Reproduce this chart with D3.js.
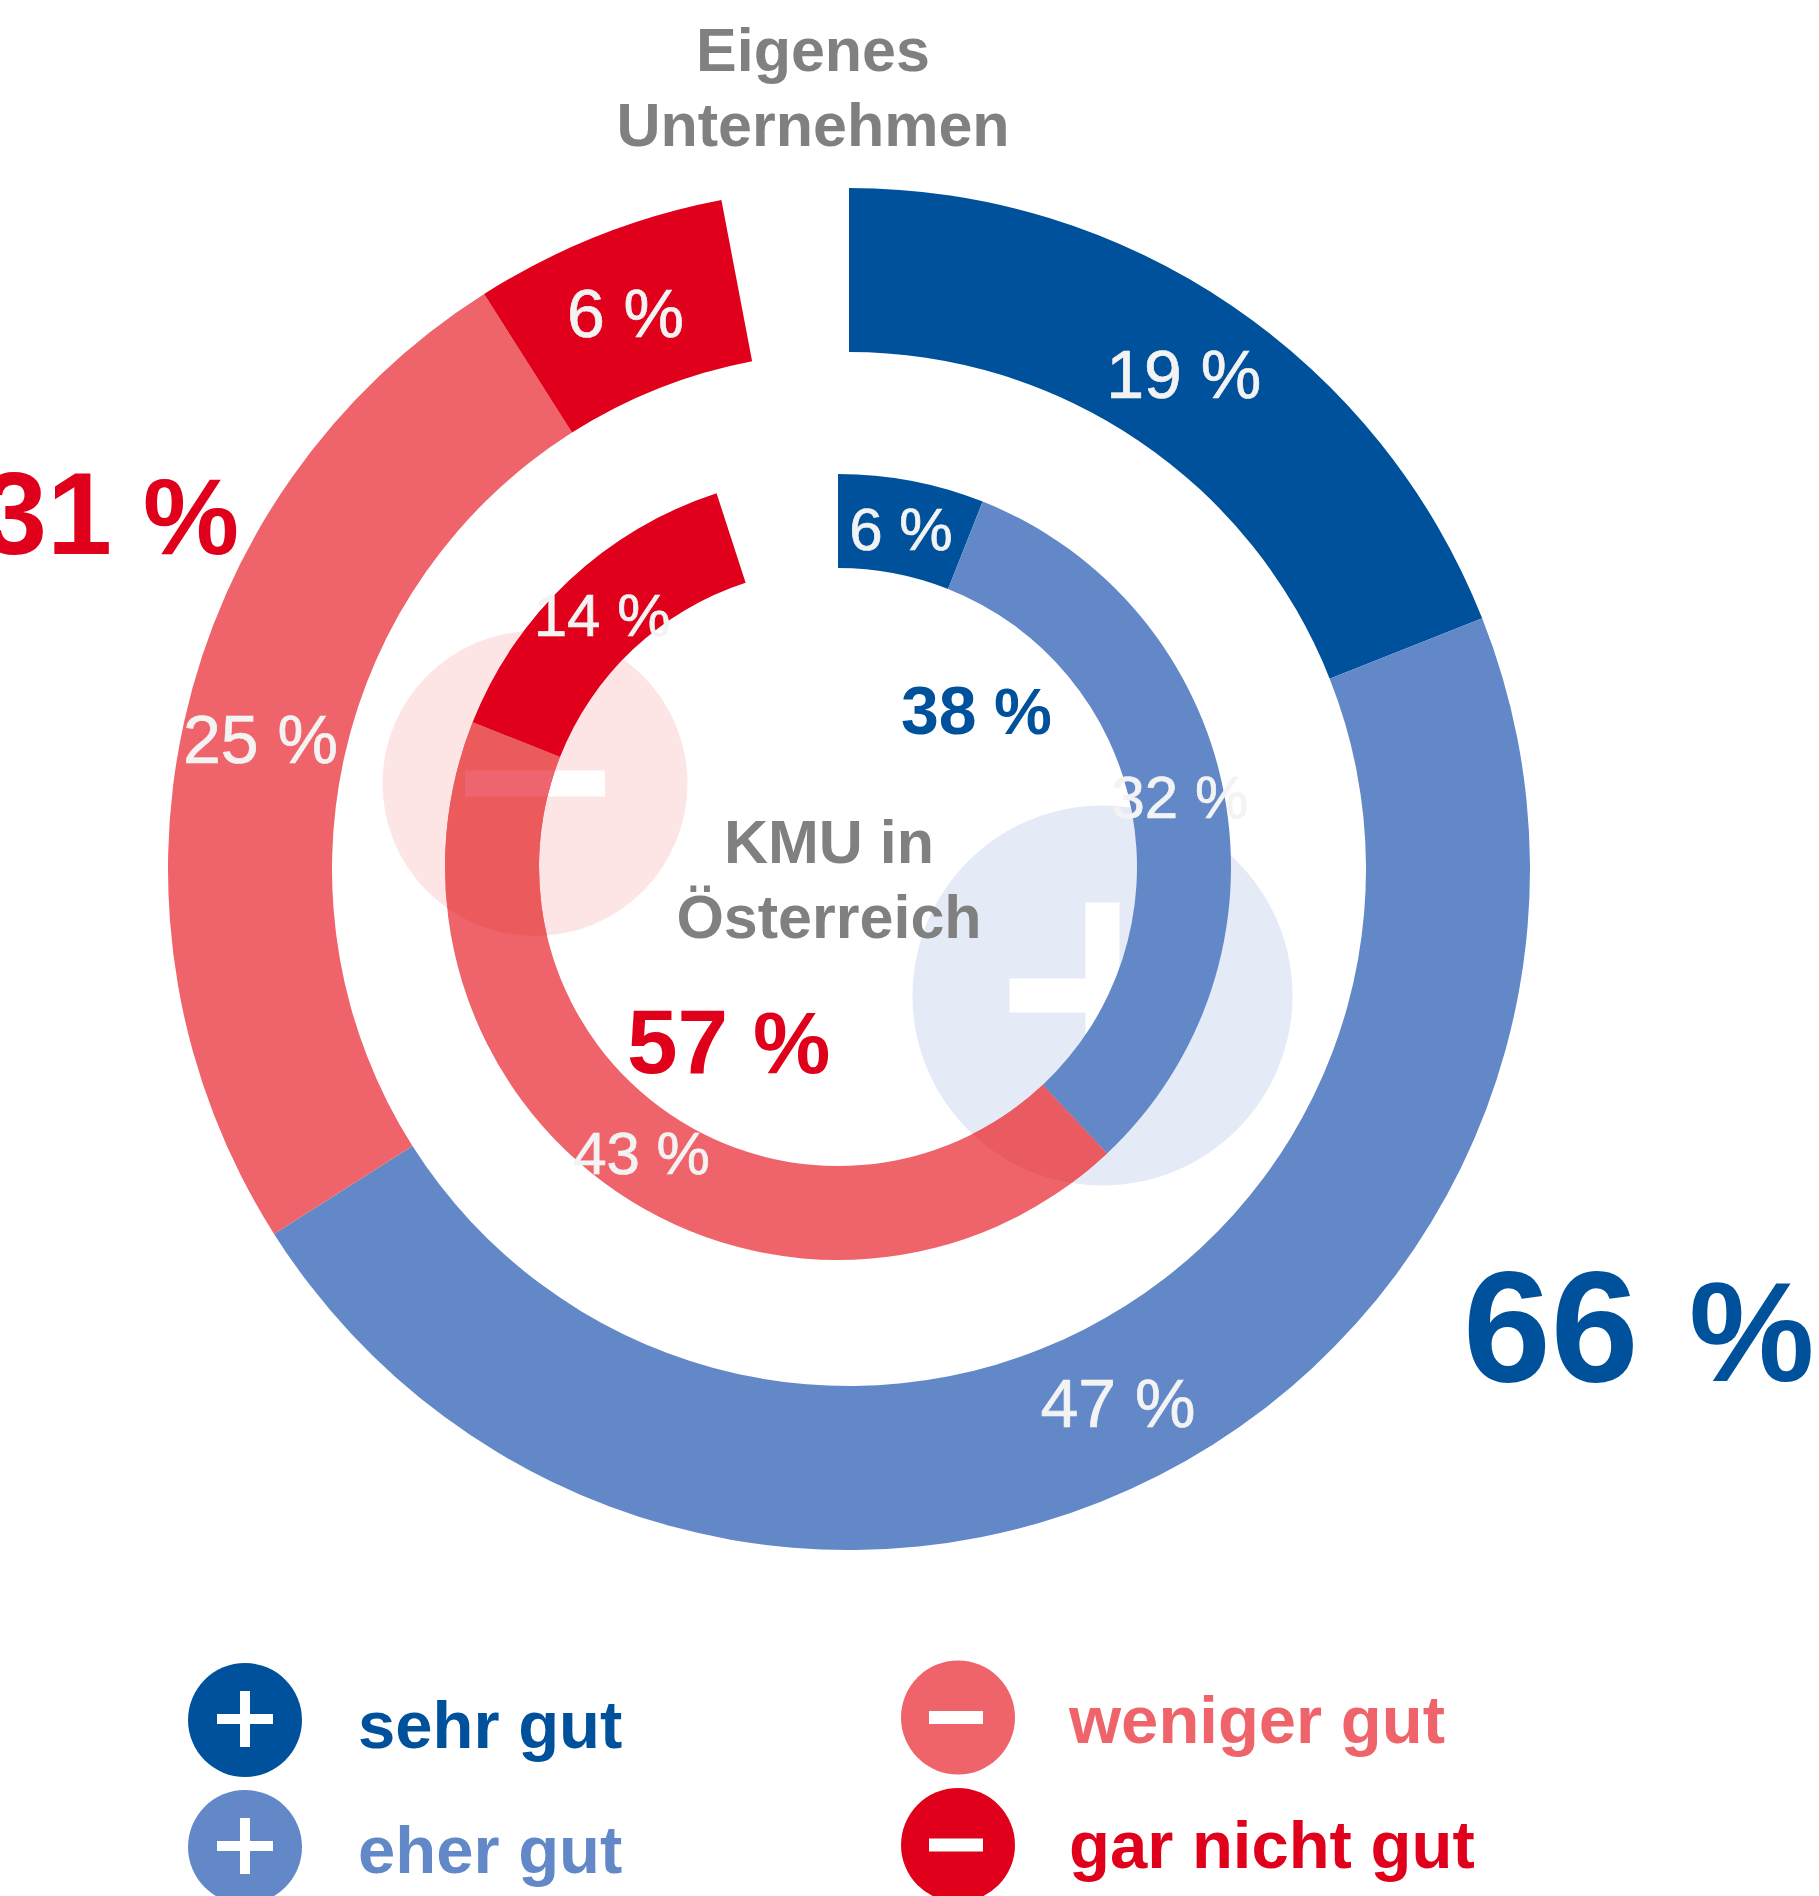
<!DOCTYPE html>
<html lang="de">
<head>
<meta charset="utf-8">
<title>Eigenes Unternehmen / KMU in Österreich</title>
<script src="https://cdn.jsdelivr.net/npm/d3@7"></script>
<style>
html,body{margin:0;padding:0;background:#fff;}
svg{display:block;}
text{font-family:"Liberation Sans",Arial,sans-serif;}
</style>
</head>
<body>
<svg id="chart" width="1819" height="1896"></svg>
<script>
// ---- data ----
const categories = ["sehr gut", "eher gut", "weniger gut", "gar nicht gut"];
const categorySigns = ["+", "+", "-", "-"];
const ownCompany = [19, 47, 25, 6];
const smeAustria = [6, 32, 43, 14];
const ownTitle = ["Eigenes", "Unternehmen"];
const smeTitle = ["KMU in", "Österreich"];
const ownTotals = [66, 31];
const smeTotals = [38, 57];

// ---- styling ----
const colors = ["#00519b", "#6288c8", "#ef636a", "#e0001b"];
const W = 1819, H = 1896;
const svg = d3.select("#chart").attr("viewBox", [0, 0, W, H]);
const defs = svg.append("defs");

const angle = d3.scaleLinear().domain([0, 100]).range([0, 2 * Math.PI]);
const color = d3.scaleOrdinal().domain(categories).range(colors);

function slices(values) {
  let c = 0;
  return values.map((v, i) => {
    const s = { key: categories[i], value: v, startAngle: angle(c), endAngle: angle(c + v) };
    c += v;
    return s;
  });
}
const rings = {
  own: { cx: 849, cy: 869, inner: 517, outer: 681, font: 68, nudge: [[0, 0], [-1, 0], [-2, 0], [-1, 0]], data: slices(ownCompany) },
  sme: { cx: 838, cy: 867, inner: 299, outer: 393, font: 60, nudge: [[0, 1], [4, -6], [0, -1], [3, 0]], data: slices(smeAustria) }
};
const arcOf = r => d3.arc().innerRadius(r.inner).outerRadius(r.outer);

function signBars(g, sign, cx, cy, half, th, fill) {
  g.append("rect").attr("x", cx - half).attr("y", cy - th / 2).attr("width", half * 2).attr("height", th).attr("fill", fill);
  if (sign === "+") g.append("rect").attr("x", cx - th / 2).attr("y", cy - half).attr("width", th).attr("height", half * 2).attr("fill", fill);
}

// ---- watermark icons below the rings ----
const marks = svg.append("g");
const minusMark = { cx: 535, cy: 783.5, r: 152.5, half: 70, th: 26 };
const plusMark = { cx: 1102.5, cy: 995.5, r: 190, half: 93, th: 34 };
marks.append("circle").attr("cx", minusMark.cx).attr("cy", minusMark.cy).attr("r", minusMark.r).attr("fill", "#fde5e6");
signBars(marks, "-", minusMark.cx, minusMark.cy, minusMark.half, minusMark.th, "#fff");
marks.append("circle").attr("cx", plusMark.cx).attr("cy", plusMark.cy).attr("r", plusMark.r).attr("fill", "#e4eaf6");
signBars(marks, "+", plusMark.cx, plusMark.cy, plusMark.half, plusMark.th, "#fff");

// ---- rings ----
Object.values(rings).forEach(r => {
  svg.append("g").attr("transform", `translate(${r.cx},${r.cy})`)
    .selectAll("path").data(r.data).join("path")
    .attr("d", arcOf(r)).attr("fill", d => color(d.key));
});

// ---- tint where the watermark icons overlap the light red slice ----
const sme = rings.sme, smeLight = sme.data[2];
defs.append("clipPath").attr("id", "clipMinus").append("circle")
  .attr("cx", minusMark.cx).attr("cy", minusMark.cy).attr("r", minusMark.r);
defs.append("clipPath").attr("id", "clipPlus").append("circle")
  .attr("cx", plusMark.cx).attr("cy", plusMark.cy).attr("r", plusMark.r);
defs.append("clipPath").attr("id", "clipSlice").append("path")
  .attr("transform", `translate(${sme.cx},${sme.cy})`).attr("d", arcOf(sme)(smeLight));
[["clipMinus", "#ec5b5c"], ["clipPlus", "#e95b61"]].forEach(([id, fill]) => {
  svg.append("g").attr("clip-path", `url(#${id})`)
    .append("path").attr("transform", `translate(${sme.cx},${sme.cy})`)
    .attr("d", arcOf(sme)(smeLight)).attr("fill", fill);
});
signBars(svg.append("g").attr("clip-path", "url(#clipSlice)"), "-", minusMark.cx, minusMark.cy, minusMark.half, minusMark.th, "#ee6570");

// ---- value labels on the slices ----
Object.values(rings).forEach(r => {
  const a = arcOf(r);
  svg.append("g").selectAll("text").data(r.data).join("text")
    .attr("x", (d, i) => r.cx + a.centroid(d)[0] - 2 + r.nudge[i][0])
    .attr("y", (d, i) => r.cy + a.centroid(d)[1] + r.font * 0.36 + r.nudge[i][1])
    .attr("text-anchor", "middle")
    .attr("font-size", r.font)
    .attr("fill", "#f3f3f3")
    .attr("stroke", "#f3f3f3")
    .attr("stroke-width", 0.7)
    .text(d => `${d.value} %`);
});

// ---- titles ----
function title(lines, x, ys) {
  svg.append("g").selectAll("text").data(lines).join("text")
    .attr("x", x).attr("y", (d, i) => ys[i])
    .attr("text-anchor", "middle").attr("font-weight", 700).attr("font-size", 61).attr("fill", "#808080")
    .text(d => d);
}
title(ownTitle, 813, [71, 146]);
title(smeTitle, 829, [863, 938]);

// ---- totals: digits and the percent sign placed separately ----
const totals = [
  { value: ownTotals[0], x: 1463, y: 1381, size: 158, px: 1689, ps: 141, c: colors[0] },
  { value: ownTotals[1], x: -18, y: 554, size: 117, px: 143, ps: 108, c: colors[3] },
  { value: smeTotals[0], x: 901, y: 734, size: 68, px: 994, ps: 65, c: colors[0] },
  { value: smeTotals[1], x: 627, y: 1073, size: 91, px: 753, ps: 87, c: colors[3] }
];
const totalText = svg.append("g").selectAll("text").data(totals).join("text")
  .attr("y", d => d.y).attr("font-weight", 700).attr("fill", d => d.c);
totalText.append("tspan").attr("x", d => d.x).attr("font-size", d => d.size).text(d => `${d.value} `);
totalText.append("tspan").attr("x", d => d.px).attr("font-size", d => d.ps).text("%");

// ---- legend ----
const legendPos = [
  { cx: 245, cy: 1720, tx: 358, ty: 1748 },
  { cx: 245, cy: 1847, tx: 358, ty: 1873 },
  { cx: 958, cy: 1717.5, tx: 1069, ty: 1743 },
  { cx: 958, cy: 1845, tx: 1069, ty: 1868 }
];
categories.forEach((name, i) => {
  const p = legendPos[i];
  const g = svg.append("g");
  g.append("circle").attr("cx", p.cx).attr("cy", p.cy).attr("r", 57).attr("fill", color(name));
  if (categorySigns[i] === "+") signBars(g, "+", p.cx, p.cy - 1, 28, 10, "#fff");
  else signBars(g, "-", p.cx - 2, p.cy, 27, 13, "#fff");
  g.append("text").attr("x", p.tx).attr("y", p.ty)
    .attr("font-weight", 700).attr("font-size", 67).attr("fill", color(name)).text(name);
});
</script>
</body>
</html>
